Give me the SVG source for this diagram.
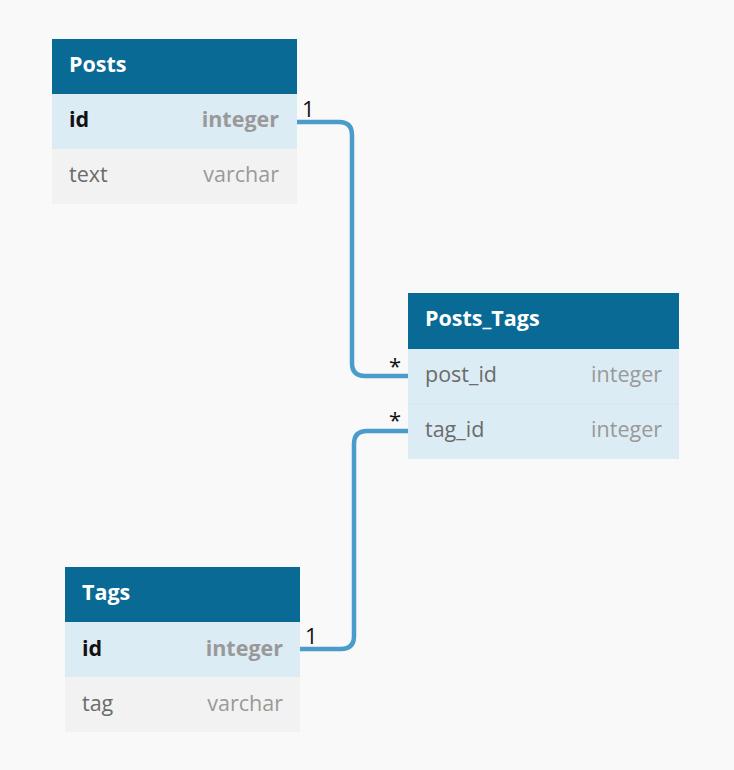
<svg xmlns="http://www.w3.org/2000/svg" width="734" height="770" viewBox="0 0 734 770">
<style>
.hdr{fill:#0a6a96}
.r1{fill:#dcecf4}
.r2{fill:#f2f2f2}
.title{font-family:"Open Sans","Noto Sans",sans-serif;font-size:21.5px;font-weight:700;fill:#ffffff}
.pk{font-family:"Open Sans","Noto Sans",sans-serif;font-size:21.5px;font-weight:700;fill:#111111}
.pkt{font-family:"Open Sans","Noto Sans",sans-serif;font-size:21.5px;font-weight:700;fill:#999999;text-anchor:end}
.fld{font-family:"Open Sans","Noto Sans",sans-serif;font-size:21.5px;fill:#6b6b6b}
.typ{font-family:"Open Sans","Noto Sans",sans-serif;font-size:21.5px;fill:#999999;text-anchor:end}
.conn{fill:none;stroke:#4a9dcb;stroke-width:4.5}
.card{font-family:"Open Sans","Noto Sans",sans-serif;font-size:22px;fill:#111111}
</style>
<rect width="734" height="770" fill="#f9f9f9"/>
<g id="connectors">
<path class="conn" d="M297,122 H339 Q352,122 352,135 V363 Q352,376 365,376 H408"/>
<path class="conn" d="M408,431 H367 Q354,431 354,444 V636 Q354,649 341,649 H300"/>
<text class="card" x="302" y="117">1</text>
<text class="card" x="389" y="374">*</text>
<text class="card" x="389" y="428">*</text>
<text class="card" x="305" y="644">1</text>
</g>
<g id="Posts">
<rect class="hdr" x="52" y="39" width="245" height="55"/>
<rect class="r1" x="52" y="94" width="245" height="55"/>
<rect class="r2" x="52" y="149" width="245" height="55"/>
<text class="title" x="69" y="72">Posts</text>
<text class="pk" x="69" y="127">id</text>
<text class="pkt" x="279" y="127">integer</text>
<text class="fld" x="69" y="182">text</text>
<text class="typ" x="279" y="182">varchar</text>
</g>
<g id="Posts_Tags">
<rect class="hdr" x="408" y="293" width="271" height="56"/>
<rect class="r1" x="408" y="349" width="271" height="110"/>
<line x1="408" y1="404" x2="679" y2="404" stroke="#d3e5ee" stroke-width="1"/>
<text class="title" x="425" y="326">Posts_Tags</text>
<text class="fld" x="425" y="382">post_id</text>
<text class="typ" x="662" y="382">integer</text>
<text class="fld" x="425" y="437">tag_id</text>
<text class="typ" x="662" y="437">integer</text>
</g>
<g id="Tags">
<rect class="hdr" x="65" y="567" width="235" height="55"/>
<rect class="r1" x="65" y="622" width="235" height="55"/>
<rect class="r2" x="65" y="677" width="235" height="55"/>
<text class="title" x="82" y="600">Tags</text>
<text class="pk" x="82" y="656">id</text>
<text class="pkt" x="283" y="656">integer</text>
<text class="fld" x="82" y="711">tag</text>
<text class="typ" x="283" y="711">varchar</text>
</g>
</svg>
